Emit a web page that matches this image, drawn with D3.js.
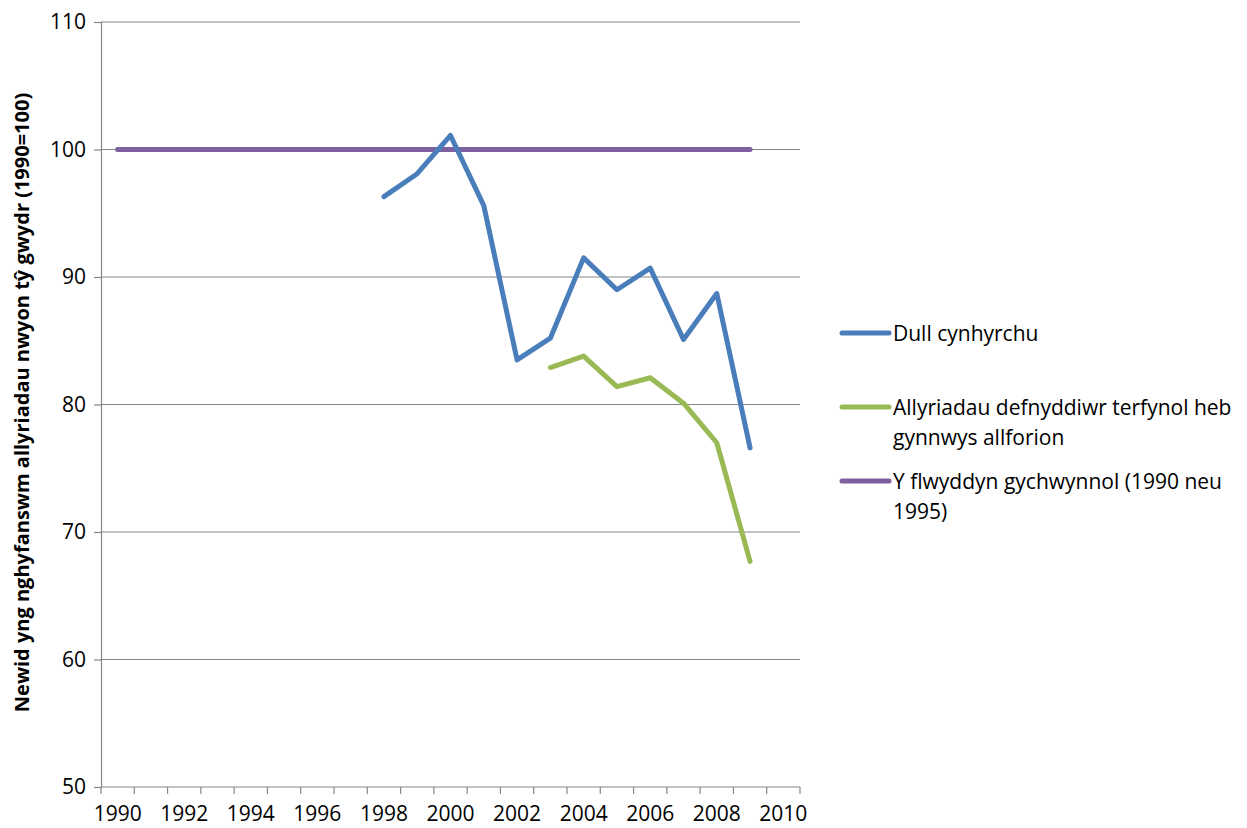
<!DOCTYPE html>
<html><head><meta charset="utf-8">
<script src="https://cdn.jsdelivr.net/npm/d3@7"></script>
<style>body{margin:0;background:#fff}svg{display:block}text{font-family:"Open Sans",sans-serif}</style>
</head><body><svg id="c" width="1247" height="828"></svg>
<script>
const years = d3.range(1990, 2011);
const tickLabels = [1990,1992,1994,1996,1998,2000,2002,2004,2006,2008,2010];
const yTicks = [50,60,70,80,90,100,110];
const productionYears = [1998,1999,2000,2001,2002,2003,2004,2005,2006,2007,2008,2009];
const productionValues = [96.3,98.1,101.1,95.6,83.5,85.2,91.5,89.0,90.7,85.1,88.7,76.6];
const consumerYears = [2003,2004,2005,2006,2007,2008,2009];
const consumerValues = [82.9,83.8,81.4,82.1,80.1,77.0,67.7];
const baseYears = d3.range(1990, 2010);
const baseValues = baseYears.map(() => 100);
const seriesNames = ["Dull cynhyrchu","Allyriadau defnyddiwr terfynol heb gynnwys allforion","Y flwyddyn gychwynnol (1990 neu 1995)"];
const legendLines = [["Dull cynhyrchu"],["Allyriadau defnyddiwr terfynol heb","gynnwys allforion"],["Y flwyddyn gychwynnol (1990 neu","1995)"]];
const colors = ["#4a7ebb","#98b954","#7d60a0"];
const yTitle = "Newid yng nghyfanswm allyriadau nwyon tŷ gwydr (1990=100)";

const svg = d3.select("#c");
const L=101, R=800, T=22, B=787;
const FS=21;
const x = d3.scaleBand().domain(years).range([L,R]);
const y = d3.scaleLinear().domain([50,110]).range([B,T]);
const cx = yr => x(yr) + x.bandwidth()/2;

// gridlines
svg.append("g").selectAll("line").data(yTicks.filter(v=>v>50)).join("line")
  .attr("x1",L).attr("x2",R).attr("y1",d=>y(d)).attr("y2",d=>y(d))
  .attr("stroke","#868686").attr("stroke-width",1.2);

// y axis
const ya = svg.append("g").attr("transform",`translate(${L},0)`)
  .call(d3.axisLeft(y).tickValues(yTicks).tickSize(7).tickPadding(8).tickFormat(d3.format("d")));
ya.attr("font-size",FS).attr("font-family","Open Sans");
ya.select(".domain").attr("stroke","#868686").attr("stroke-width",1.2);
ya.selectAll(".tick line").attr("stroke","#868686").attr("stroke-width",1.2);
ya.selectAll("text").attr("fill","#000");

// x axis
const xg = svg.append("g").attr("transform",`translate(0,${B})`);
xg.append("line").attr("x1",L).attr("x2",R).attr("stroke","#868686").attr("stroke-width",1.2);
const bounds = years.map(yr=>x(yr)).concat([R]);
xg.selectAll("line.t").data(bounds).join("line").attr("class","t")
  .attr("x1",d=>d).attr("x2",d=>d).attr("y1",0).attr("y2",7)
  .attr("stroke","#868686").attr("stroke-width",1.2);
xg.selectAll("text").data(tickLabels).join("text")
  .attr("x",d=>cx(d)).attr("y",34).attr("text-anchor","middle")
  .attr("font-size",FS).attr("fill","#000").text(d=>d);

// y title
svg.append("text").attr("transform",`translate(29,${(T+B)/2 - 2}) rotate(-90)`)
  .attr("text-anchor","middle").attr("font-size",20).attr("font-weight","bold").text(yTitle);

// lines
const line = d3.line().x(d=>cx(d[0])).y(d=>y(d[1]));
const data = [d3.zip(productionYears,productionValues), d3.zip(consumerYears,consumerValues), d3.zip(baseYears,baseValues)];
const order=[2,0,1];
order.forEach(i=>{
  svg.append("path").datum(data[i]).attr("d",line).attr("fill","none")
    .attr("stroke",colors[i]).attr("stroke-width",5).attr("stroke-linejoin","round").attr("stroke-linecap","round");
});

// legend
const ly=[333,407,481];
legendLines.forEach((lines,i)=>{
  const g=svg.append("g");
  g.append("line").attr("x1",842).attr("x2",889).attr("y1",ly[i]).attr("y2",ly[i])
    .attr("stroke",colors[i]).attr("stroke-width",5).attr("stroke-linecap","round");
  lines.forEach((t,j)=>{
    g.append("text").attr("x",893).attr("y",ly[i]+8+j*30).attr("font-size",FS).attr("fill","#000").text(t);
  });
});
</script></body></html>
